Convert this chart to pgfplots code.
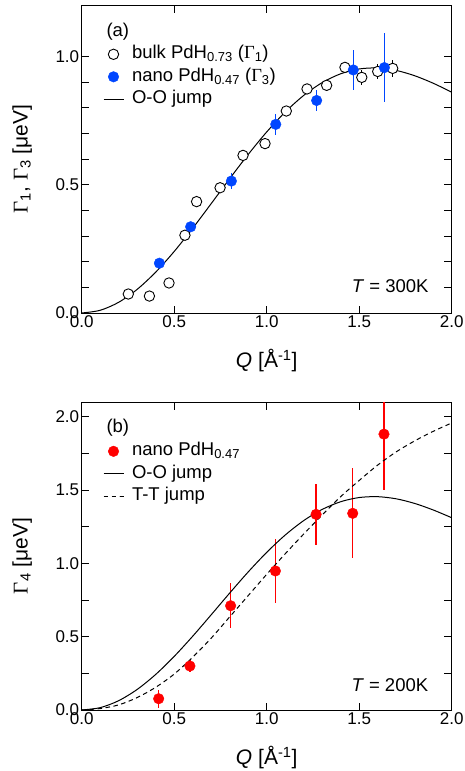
\documentclass[border=0pt]{standalone}
\usepackage{fontspec}
\setmainfont{Liberation Sans}
\newfontfamily\serifg{Liberation Serif}
\usepackage{pgfplots}
\pgfplotsset{compat=1.18}
\definecolor{myblue}{RGB}{0,70,255}
\definecolor{myred}{RGB}{255,0,0}
\pgfplotsset{
  common/.style={
    scale only axis, width=370pt, height=308pt,
    xmin=0, xmax=2, xtick={0,0.5,1,1.5,2},
    tick align=inside, major tick length=7.5pt, minor tick length=7.5pt,
    axis line style={line width=0.9pt},
    every tick/.style={line width=0.8pt, black},
    /pgf/number format/assume math mode=true,
    tick label style={font=\fontsize{17}{19}\selectfont},
    xticklabel style={yshift=-1.5pt, inner ysep=1pt, /pgf/number format/.cd, fixed, fixed zerofill, precision=1},
    yticklabel style={xshift=1pt, inner ysep=1pt, /pgf/number format/.cd, fixed, fixed zerofill, precision=1},
    label style={font=\fontsize{21}{24}\selectfont},
    xlabel={\textit{Q} [Å\textsuperscript{-1}]},
    xlabel style={at={(axis description cs:0.5,-0.178)}, anchor=base},
    ylabel style={at={(axis description cs:-0.161,0.5)}, anchor=center},
    legend style={draw=none, fill=none, inner sep=0pt, outer sep=0pt,
      font=\fontsize{18.5}{21}\selectfont,
      at={(rel axis cs:0.0576,0.8675)}, anchor=north west,
      column sep=6pt, row sep=5.5pt,
      nodes={inner ysep=0pt, text height=13pt, text depth=4pt}},
    legend cell align=left,
    legend image code/.code={\draw[mark repeat=2,mark phase=2,#1] plot coordinates {(0pt,0pt) (10pt,0pt) (20pt,0pt)};},
  }
}
\begin{document}
\begin{tikzpicture}
% ---------------- panel (a)
\begin{axis}[common,
  at={(81.7pt,-313pt)}, anchor=south west,
  ymin=0, ymax=1.2, ytick={0,0.5,1}, minor y tick num=4,
  ylabel={{\serifg Γ}\textsubscript{1}, {\serifg Γ}\textsubscript{3} [μeV]},
]
\addplot[black, line width=1pt, smooth, forget plot] coordinates {
(0,0) (0.1,0.0106) (0.2,0.0418) (0.3,0.0922) (0.4,0.1592) (0.5,0.2398)
(0.6,0.3302) (0.7,0.4262) (0.8,0.5235) (0.9,0.6178) (1.0,0.7054)
(1.1,0.7830) (1.2,0.8477) (1.3,0.8977) (1.4,0.9321) (1.5,0.9508)
(1.6,0.9547) (1.7,0.9451) (1.8,0.9244) (1.9,0.8952) (2.0,0.8604)};
\addplot[only marks, mark=*, mark size=5.2pt, black, line width=0.9pt,
  mark options={fill=white, draw=black},
  error bars/.cd, y dir=both, y explicit, error mark=none,
  error bar style={line width=1pt, black}] coordinates {
(0.252,0.074) +- (0,0.005)
(0.366,0.066) +- (0,0.005)
(0.472,0.117) +- (0,0.005)
(0.558,0.303) +- (0,0.008)
(0.621,0.434) +- (0,0.008)
(0.748,0.488) +- (0,0.008)
(0.872,0.614) +- (0,0.01)
(0.991,0.660) +- (0,0.01)
(1.106,0.787) +- (0,0.01)
(1.218,0.873) +- (0,0.012)
(1.324,0.887) +- (0,0.015)
(1.423,0.957) +- (0,0.015)
(1.514,0.918) +- (0,0.03)
(1.600,0.941) +- (0,0.03)
(1.681,0.953) +- (0,0.032)};
\addlegendentry{bulk PdH\textsubscript{0.73} ({\serifg Γ}\textsubscript{1})}
\addplot[only marks, mark=*, mark size=5.3pt, myblue, mark options={fill=myblue, draw=myblue},
  error bars/.cd, y dir=both, y explicit, error mark=none,
  error bar style={line width=1.2pt, myblue}] coordinates {
(0.420,0.194) +- (0,0.01)
(0.589,0.336) +- (0,0.012)
(0.809,0.514) +- (0,0.03)
(1.049,0.735) +- (0,0.042)
(1.270,0.828) +- (0,0.04)
(1.468,0.947) +- (0,0.078)
(1.636,0.956) +- (0,0.135)};
\addlegendentry{nano PdH\textsubscript{0.47} ({\serifg Γ}\textsubscript{3})}
\addlegendimage{black, line width=1pt}
\addlegendentry{O-O jump}
\node[anchor=west, font=\fontsize{18.5}{21}\selectfont] at (rel axis cs:0.0576,0.914) {(a)};
\node[anchor=base east, font=\fontsize{18.5}{21}\selectfont] at (rel axis cs:0.947,0.065) {\textit{T} = 300K};
\end{axis}
% ---------------- panel (b)
\begin{axis}[common,
  at={(81.7pt,-710pt)}, anchor=south west,
  ymin=0, ymax=2.1, ytick={0,0.5,1,1.5,2}, minor y tick num=1,
  ylabel={{\serifg Γ}\textsubscript{4} [μeV]},
]
\addplot[only marks, mark=*, mark size=5.3pt, myred, mark options={fill=myred, draw=myred},
  error bars/.cd, y dir=both, y explicit, error mark=none,
  error bar style={line width=1.2pt, myred}] coordinates {
(0.416,0.077) +- (0,0.06)
(0.585,0.300) +- (0,0.04)
(0.805,0.711) +- (0,0.153)
(1.047,0.948) +- (0,0.216)
(1.267,1.334) +- (0,0.21)
(1.465,1.341) +- (0,0.307)
(1.634,1.881) +- (0,0.38)};
\addlegendentry{nano PdH\textsubscript{0.47}}
\addplot[black, line width=1pt, smooth] coordinates {
(0,0) (0.1,0.0161) (0.2,0.0637) (0.3,0.1404) (0.4,0.2426) (0.5,0.3654)
(0.6,0.5031) (0.7,0.6493) (0.8,0.7975) (0.9,0.9413) (1.0,1.0748)
(1.1,1.1929) (1.2,1.2915) (1.3,1.3677) (1.4,1.4202) (1.5,1.4487)
(1.6,1.4545) (1.7,1.4400) (1.8,1.4084) (1.9,1.3639) (2.0,1.3109)};
\addlegendentry{O-O jump}
\addplot[black, line width=1pt, smooth, dash pattern=on 4.5pt off 3.5pt] coordinates {
(0,0) (0.1,0.010) (0.2,0.035) (0.3,0.085) (0.4,0.155) (0.5,0.245)
(0.6,0.36) (0.7,0.49) (0.8,0.635) (0.9,0.78) (1.0,0.925)
(1.1,1.065) (1.2,1.20) (1.3,1.33) (1.4,1.455) (1.5,1.565)
(1.6,1.67) (1.7,1.76) (1.8,1.835) (1.9,1.90) (2.0,1.957)};
\addlegendentry{T-T jump}
\node[anchor=west, font=\fontsize{18.5}{21}\selectfont] at (rel axis cs:0.0576,0.917) {(b)};
\node[anchor=base east, font=\fontsize{18.5}{21}\selectfont] at (rel axis cs:0.946,0.059) {\textit{T} = 200K};
\end{axis}
\pgfresetboundingbox
\path[use as bounding box] (0,0) rectangle (465pt,-771pt);
\end{tikzpicture}
\end{document}
